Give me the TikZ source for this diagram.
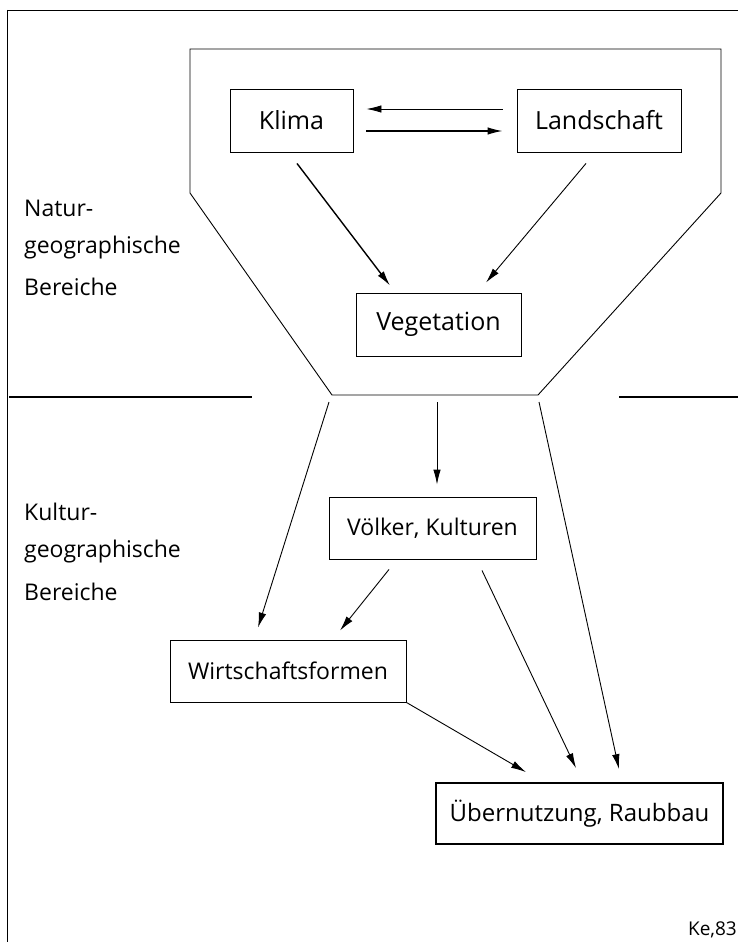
\documentclass[tikz,border=0pt]{standalone}
\usepackage{fontspec}
\setmainfont{Open Sans}
\usetikzlibrary{arrows.meta,calc}
\begin{document}
\begin{tikzpicture}[x=1pt,y=-1pt,
  box/.style={draw,line width=0.9pt,inner sep=0pt,font=\fontsize{25}{28}\selectfont},
  lbl/.style={anchor=west,inner sep=0pt,font=\fontsize{23}{26}\selectfont},
  arr/.style={line width=0.9pt,-{Latex[length=15pt,width=7.5pt]}},
  thin/.style={line width=0.9pt}]
\useasboundingbox (0,0) rectangle (738,942);
% frame
\draw[thin] (7,10) -- (738,10);
\draw[thin] (7,10) -- (7,942);
\draw[line width=2.2pt] (9,397) -- (252,397);
\draw[line width=2.2pt] (619,397) -- (738,397);
% funnel
\coordinate (tl) at (190,49);
\coordinate (tr) at (721,49);
\coordinate (ml) at (190,193);
\coordinate (mr) at (721,193);
\coordinate (bl) at (332,395);
\coordinate (br) at (538,395);
\draw[thin] (ml) -- (tl) -- (tr) -- (mr) -- (br) -- (bl) -- cycle;
% boxes
\node[box,minimum width=123pt,minimum height=63pt] (klima) at (291.5,120.5) {Klima};
\node[box,minimum width=164pt,minimum height=63pt] (land) at (599,120.5) {Landschaft};
\node[box,minimum width=165pt,minimum height=63pt] (veg) at (438.5,324.5) {Vegetation};
\node[box,minimum width=207pt,minimum height=62pt,font=\fontsize{23}{26}\selectfont] (volk) at (432.5,528) {Völker, Kulturen};
\node[box,minimum width=236pt,minimum height=62pt,font=\fontsize{23}{26}\selectfont] (wirt) at (288,671) {Wirtschaftsformen};
\node[box,line width=1.8pt,minimum width=287pt,minimum height=61pt,font=\fontsize{24}{27}\selectfont] (uber) at (579.5,813.5) {Übernutzung, Raubbau};
% labels
\node[lbl] (n1) at (24,208) {Natur-};
\node[lbl] (n2) at (24,248) {geographische};
\node[lbl] (n3) at (24,287) {Bereiche};
\node[lbl] (k1) at (24,512) {Kultur-};
\node[lbl] (k2) at (24,552) {geographische};
\node[lbl] (k3) at (24,592) {Bereiche};
\node[anchor=east,inner sep=0pt,font=\fontsize{19}{22}\selectfont] (sig) at (737,930) {Ke,83};
% arrows
\draw[arr] ([xshift=-14pt,yshift=11.5pt]land.west) -- ([xshift=13pt,yshift=11.5pt]klima.east);
\draw[arr,line width=1.3pt] ([xshift=13pt,yshift=-10.5pt]klima.east) -- ([xshift=-14pt,yshift=-10.5pt]land.west);
\draw[arr,line width=1.4pt] ([xshift=5.5pt,yshift=-11pt]klima.south) -- ([xshift=-48.5pt,yshift=7pt]veg.north);
\draw[arr] ([xshift=-13pt,yshift=-11pt]land.south) -- ([xshift=47.5pt,yshift=10pt]veg.north);
\draw[arr] ($(bl)!0.5!(br)+(2,7)$) -- ([xshift=4.5pt,yshift=12pt]volk.north);
\draw[arr] ($(bl)+(-3,7)$) -- ([xshift=-30pt,yshift=12pt]wirt.north);
\draw[arr] ($(br)+(1,7)$) -- ([xshift=39.5pt,yshift=13pt]uber.north);
\draw[arr] ([xshift=-43.5pt,yshift=-10pt]volk.south) -- ([xshift=52pt,yshift=9pt]wirt.north);
\draw[arr] ([xshift=49.5pt,yshift=-11pt]volk.south) -- ([xshift=-3.5pt,yshift=14pt]uber.north);
\draw[arr] (wirt.south east) -- ([xshift=-53.5pt,yshift=10pt]uber.north);
\end{tikzpicture}
\end{document}
